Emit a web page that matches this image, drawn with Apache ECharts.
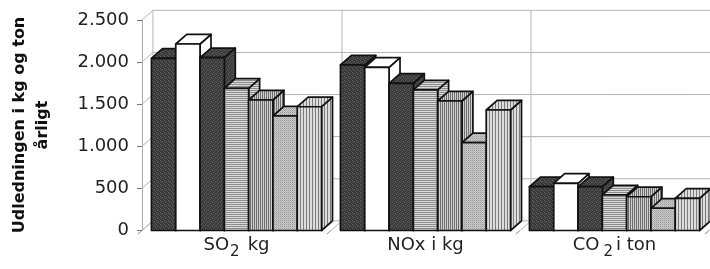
<!DOCTYPE html>
<html><head><meta charset="utf-8">
<script src="https://cdn.jsdelivr.net/npm/echarts@6/dist/echarts.min.js"></script>
<style>html,body{margin:0;padding:0;background:#fff}#c{width:710px;height:269px}</style>
</head><body><div id="c"></div>
<script>
// ---- data ----
const categories = ['SO2 kg', 'NOx i kg', 'CO2 i ton'];
const yTicks = [0, 500, 1000, 1500, 2000, 2500];
const seriesA = [2045, 1966, 520];  // dark stipple
const seriesB = [2215, 1938, 560];  // white
const seriesC = [2052, 1748, 520];  // dark stipple
const seriesD = [1689, 1669, 422];  // horizontal lines
const seriesE = [1550, 1538, 401];  // dense vertical lines
const seriesF = [1360, 1043, 264];  // light dotted
const seriesG = [1470, 1431, 382];  // light vertical lines

// ---- styling helpers ----
const DEPTH = 0.058, SLOPE = 0.88, GROUP = 0.9;
function makePattern(w, h, draw) {
  const c = document.createElement('canvas'); c.width = w; c.height = h;
  const ctx = c.getContext('2d'); draw(ctx);
  return { image: c, repeat: 'repeat' };
}
function px(ctx, x, y, col) { ctx.fillStyle = col; ctx.fillRect(x, y, 1, 1); }
const patDark = makePattern(4, 4, ctx => {
  ctx.fillStyle = '#3c3c3c'; ctx.fillRect(0, 0, 4, 4);
  px(ctx, 0, 0, '#666'); px(ctx, 2, 1, '#555'); px(ctx, 1, 2, '#606060'); px(ctx, 3, 3, '#505050');
  px(ctx, 3, 0, '#2e2e2e'); px(ctx, 1, 3, '#303030');
});
const patDark2 = makePattern(4, 4, ctx => {
  ctx.fillStyle = '#3e3e3e'; ctx.fillRect(0, 0, 4, 4);
  px(ctx, 1, 0, '#626262'); px(ctx, 3, 1, '#585858'); px(ctx, 0, 2, '#606060'); px(ctx, 2, 3, '#545454');
  px(ctx, 2, 0, '#2e2e2e'); px(ctx, 0, 3, '#303030');
});
const patWhite = '#ffffff';
const patH = makePattern(2, 2, ctx => {
  ctx.fillStyle = '#dadada'; ctx.fillRect(0, 0, 2, 2);
  ctx.fillStyle = '#8c8c8c'; ctx.fillRect(0, 0, 2, 1);
});
const patV = makePattern(2, 2, ctx => {
  ctx.fillStyle = '#cfcfcf'; ctx.fillRect(0, 0, 2, 2);
  ctx.fillStyle = '#6e6e6e'; ctx.fillRect(0, 0, 1, 2);
});
const patDot = makePattern(2, 2, ctx => {
  ctx.fillStyle = '#cccccc'; ctx.fillRect(0, 0, 2, 2);
  px(ctx, 0, 0, '#9a9a9a'); px(ctx, 1, 1, '#b0b0b0');
});
const patV2 = makePattern(3, 2, ctx => {
  ctx.fillStyle = '#dcdcdc'; ctx.fillRect(0, 0, 3, 2);
  ctx.fillStyle = '#7c7c7c'; ctx.fillRect(0, 0, 1, 2);
});

const barDefs = [
  { name: 'A', data: seriesA, fill: patDark },
  { name: 'B', data: seriesB, fill: patWhite },
  { name: 'C', data: seriesC, fill: patDark2 },
  { name: 'D', data: seriesD, fill: patH },
  { name: 'E', data: seriesE, fill: patV },
  { name: 'F', data: seriesF, fill: patDot },
  { name: 'G', data: seriesG, fill: patV2 }
];
const NBARS = barDefs.length;

function barRenderer(idx, fill) {
  return function (params, api) {
    const cat = api.value(0), val = api.value(1);
    const top = api.coord([cat, val]);
    const base = api.coord([cat, 0]);
    const catW = api.size([1, 0])[0];
    const gw = catW * GROUP, w = gw / NBARS;
    const dx = catW * DEPTH, dy = -dx * SLOPE;
    const x0 = top[0] - gw / 2 + idx * w, x1 = x0 + w;
    const yt = top[1], yb = base[1];
    const st = { fill: fill, stroke: '#111', lineWidth: 1.7, lineJoin: 'round' };
    return {
      type: 'group',
      children: [
        { type: 'polygon', shape: { points: [[x1, yt], [x1 + dx, yt + dy], [x1 + dx, yb + dy], [x1, yb]] }, style: st },
        { type: 'polygon', shape: { points: [[x0, yt], [x1, yt], [x1 + dx, yt + dy], [x0 + dx, yt + dy]] }, style: st },
        { type: 'polygon', shape: { points: [[x0, yt], [x1, yt], [x1, yb], [x0, yb]] }, style: st }
      ]
    };
  };
}

function frameRender(params, api) {
  const cs = params.coordSys;
  const v = api.value(1);
  const y = api.coord([0, v])[1];
  const catW = api.size([1, 0])[0];
  const dx = catW * DEPTH, dy = -dx * SLOPE;
  const xl = cs.x, xr = cs.x + cs.width;
  const ls = { stroke: '#b4b4b4', lineWidth: 1 };
  const ch = [
    { type: 'line', shape: { x1: xl, y1: y, x2: xl + dx, y2: y + dy }, style: ls },
    { type: 'line', shape: { x1: xl + dx, y1: y + dy, x2: xr + dx, y2: y + dy }, style: ls }
  ];
  if (params.dataIndex === 0) {
    const yb = cs.y + cs.height, ytop = cs.y;
    for (let i = 0; i <= categories.length; i++) {
      const bx = xl + i * catW;
      ch.push({ type: 'line', shape: { x1: bx + dx, y1: ytop + dy, x2: bx + dx, y2: yb + dy }, style: ls });
      ch.push({ type: 'line', shape: { x1: bx, y1: yb, x2: bx + dx, y2: yb + dy }, style: ls });
      ch.push({ type: 'line', shape: { x1: bx, y1: yb, x2: bx - 4, y2: yb + 3.5 }, style: { stroke: '#888', lineWidth: 1 } });
    }
  }
  return { type: 'group', children: ch };
}

const series = [{
  type: 'custom', name: 'frame', z: 1, silent: true,
  renderItem: frameRender,
  encode: { x: 0, y: 1 },
  data: yTicks.map(t => [0, t])
}];
barDefs.forEach((b, i) => {
  series.push({
    type: 'custom', name: b.name, z: 2,
    renderItem: barRenderer(i, b.fill),
    encode: { x: 0, y: 1 },
    data: b.data.map((v, c) => [c, v])
  });
});

const FONT = 'DejaVu Sans';
const chart = echarts.init(document.getElementById('c'), null, { renderer: 'canvas' });
chart.setOption({
  animation: false,
  backgroundColor: '#fff',
  grid: { left: 142, right: 1, top: 20, bottom: 38.5, containLabel: false },
  xAxis: {
    type: 'category', data: categories,
    axisLine: { show: false }, axisTick: { show: false }, splitLine: { show: false },
    axisLabel: {
      interval: 0, hideOverlap: false,
      margin: 5, color: '#222', fontFamily: FONT, fontSize: 18,
      formatter: function (v) {
        if (v === 'SO2 kg') return '{n|SO}{s|2}{n|kg}';
        if (v === 'CO2 i ton') return '{n|CO}{s2|2}{n|i ton}';
        return '{n|' + v + '}';
      },
      rich: {
        n: { fontFamily: FONT, fontSize: 18, color: '#222', lineHeight: 20 },
        s: { fontFamily: FONT, fontSize: 15, color: '#222', lineHeight: 15, padding: [14, 8, 0, 1] },
        s2: { fontFamily: FONT, fontSize: 15, color: '#222', lineHeight: 15, padding: [14, 3, 0, 4] }
      }
    }
  },
  yAxis: {
    type: 'value', min: 0, max: 2500, interval: 500,
    axisLine: { show: true, lineStyle: { color: '#aaa', width: 1 } },
    axisTick: { show: true, length: 5, lineStyle: { color: '#777' } },
    splitLine: { show: false },
    axisLabel: {
      margin: 13, color: '#222', fontFamily: FONT, fontSize: 18,
      formatter: v => String(v).replace(/\B(?=(\d{3})+(?!\d))/g, '.')
    }
  },
  graphic: [{
    type: 'text', x: 31.5, y: 125, rotation: Math.PI / 2,
    style: {
      text: 'Udledningen i kg og ton\nårligt', fontFamily: FONT, fontWeight: 'bold', fontSize: 16,
      lineHeight: 23, fill: '#111', align: 'center', verticalAlign: 'middle'
    }
  }],
  series: series
});
</script></body></html>
